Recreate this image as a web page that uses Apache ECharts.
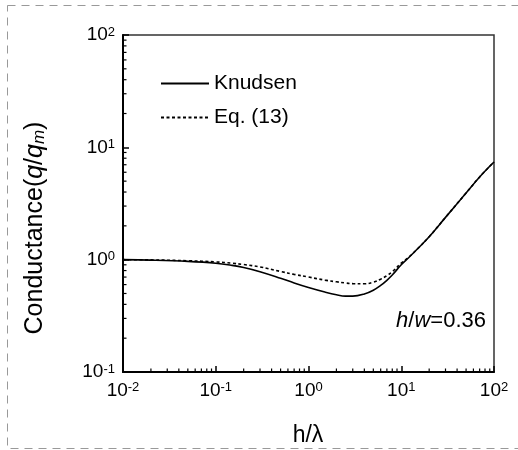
<!DOCTYPE html>
<html>
<head>
<meta charset="utf-8">
<script src="https://cdn.jsdelivr.net/npm/echarts@6/dist/echarts.min.js"></script>
<style>
  html, body { margin: 0; padding: 0; background: #fff; }
  #main { width: 518px; height: 450px; }
</style>
</head>
<body>
<div id="main"></div>
<script>
// h/lambda sample points
var xs = [0.01, 0.02, 0.05, 0.1, 0.15, 0.2, 0.3, 0.5, 0.7, 1, 1.5, 2, 2.5, 3, 4, 5, 6, 7, 8, 10, 12, 15, 20, 30, 50, 70, 100];
var knudsen = [1.0, 0.99, 0.965, 0.93, 0.89, 0.852, 0.782, 0.683, 0.62, 0.565, 0.515, 0.487, 0.474, 0.474, 0.495, 0.535, 0.59, 0.655, 0.73, 0.9, 1.04, 1.25, 1.6, 2.38, 3.92, 5.45, 7.4];
var eq13 = [1.0, 0.995, 0.978, 0.955, 0.93, 0.905, 0.862, 0.785, 0.74, 0.7, 0.658, 0.635, 0.62, 0.612, 0.61, 0.63, 0.67, 0.72, 0.78, 0.93, 1.05, 1.25, 1.6, 2.38, 3.92, 5.45, 7.4];
var xDecades = [0.01, 0.1, 1, 10, 100];
var yDecades = [0.1, 1, 10, 100];

var chart = echarts.init(document.getElementById('main'));

function pairs(a, b) {
  return a.map(function (v, i) { return [v, b[i]]; });
}
function minorTicks(decades) {
  var out = [];
  for (var i = 0; i < decades.length - 1; i++) {
    for (var k = 2; k <= 9; k++) out.push(decades[i] * k);
  }
  return out;
}
function supLabel(v) {
  var e = Math.round(Math.log10(v));
  return '{b|10}{s|' + e + '}';
}
var labelRich = {
  b: { fontSize: 19, fontFamily: 'Liberation Sans', color: '#000' },
  s: { fontSize: 13, fontFamily: 'Liberation Sans', color: '#000', verticalAlign: 'top', padding: [0, 0, 6, 0] }
};

var option = {
  backgroundColor: '#fff',
  animation: false,
  grid: { left: 123, top: 35, width: 371, height: 337, show: true, borderColor: '#333', borderWidth: 1.5 },
  xAxis: {
    type: 'log', min: 0.01, max: 100, logBase: 10,
    axisLine: { lineStyle: { color: '#000', width: 2 } },
    axisTick: { inside: true, length: 6, lineStyle: { color: '#000', width: 1.5 } },
    axisLabel: { margin: 9, formatter: supLabel, rich: labelRich },
    splitLine: { show: false }
  },
  yAxis: {
    type: 'log', min: 0.1, max: 100, logBase: 10,
    axisLine: { lineStyle: { color: '#000', width: 2 } },
    axisTick: { inside: true, length: 6, lineStyle: { color: '#000', width: 1.5 } },
    axisLabel: { margin: 8, formatter: supLabel, rich: labelRich },
    splitLine: { show: false }
  },
  legend: {
    left: 160, top: 73, orient: 'vertical', padding: 0, itemWidth: 48, itemHeight: 14, itemGap: 13,
    itemStyle: { opacity: 0, borderWidth: 0 },
    textStyle: { fontSize: 21, fontFamily: 'Liberation Sans', color: '#000' },
    data: ['Knudsen', 'Eq. (13)']
  },
  series: [
    {
      name: 'Knudsen', type: 'line', data: pairs(xs, knudsen), smooth: 0.4, symbol: 'none',
      lineStyle: { color: '#000', width: 1.6 }, itemStyle: { color: '#000' }
    },
    {
      name: 'Eq. (13)', type: 'line', data: pairs(xs, eq13), smooth: 0.4, symbol: 'none',
      lineStyle: { color: '#000', width: 1.6, type: [3, 2.5] }, itemStyle: { color: '#000' }
    },
    {
      type: 'custom', silent: true, clip: false,
      data: minorTicks(xDecades),
      renderItem: function (params, api) {
        var p = api.coord([api.value(0), 0.1]);
        return { type: 'line', shape: { x1: p[0], y1: p[1], x2: p[0], y2: p[1] - 3.5 }, style: { stroke: '#000', lineWidth: 1.2 } };
      }
    },
    {
      type: 'custom', silent: true, clip: false,
      data: minorTicks(yDecades),
      renderItem: function (params, api) {
        var p = api.coord([0.01, api.value(0)]);
        return { type: 'line', shape: { x1: p[0], y1: p[1], x2: p[0] + 3.5, y2: p[1] }, style: { stroke: '#000', lineWidth: 1.2 } };
      }
    }
  ],
  graphic: [
    {
      type: 'rect', silent: true,
      shape: { x: 7.5, y: 5.5, width: 540, height: 443 },
      style: { fill: 'none', stroke: '#999', lineWidth: 1, lineDash: [8, 6] }
    },
    {
      type: 'text', x: 35, y: 228, rotation: Math.PI / 2,
      style: {
        text: '{n|Conductance(}{i|q}{n|/}{i|q}{sub|m}{n|)}',
        align: 'center', verticalAlign: 'middle',
        rich: {
          n: { fontSize: 25, fontFamily: 'Liberation Sans', fill: '#000' },
          i: { fontSize: 25, fontFamily: 'Liberation Sans', fontStyle: 'italic', fill: '#000' },
          sub: { fontSize: 17, fontFamily: 'Liberation Sans', fontStyle: 'italic', fill: '#000', verticalAlign: 'bottom', padding: [9, 0, 0, 0] }
        }
      }
    },
    {
      type: 'text', x: 308, y: 436,
      style: { text: 'h/λ', fontSize: 23, fontFamily: 'Liberation Sans', fill: '#000', align: 'center', verticalAlign: 'middle' }
    },
    {
      type: 'text', x: 486, y: 321,
      style: {
        text: '{i|h}{n|/}{i|w}{n|=0.36}',
        align: 'right', verticalAlign: 'middle',
        rich: {
          n: { fontSize: 22, fontFamily: 'Liberation Sans', fill: '#000' },
          i: { fontSize: 22, fontFamily: 'Liberation Sans', fontStyle: 'italic', fill: '#000' }
        }
      }
    }
  ]
};

chart.setOption(option);
</script>
</body>
</html>
